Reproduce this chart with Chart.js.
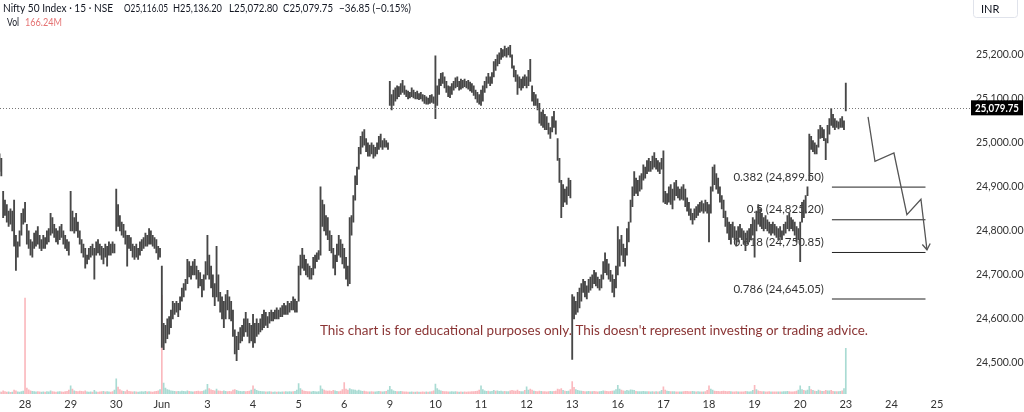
<!DOCTYPE html>
<html>
<head>
<meta charset="utf-8">
<script src="https://cdn.jsdelivr.net/npm/chart.js@4/dist/chart.umd.min.js"></script>
<style>
  html, body { margin: 0; padding: 0; background: #fff; }
  #wrap { width: 1024px; height: 412px; position: relative; }
</style>
</head>
<body>
<div id="wrap"><canvas id="chart" width="1024" height="412"></canvas></div>
<script>
// Nifty 50 Index, 15 min bars, 27 May (from 13:45) to 23 Jun (first bar)
const dayLabels = ["28", "29", "30", "Jun", "3", "4", "5", "6", "9", "10", "11", "12", "13", "16", "17", "18", "19", "20", "23", "24", "25"];
const barsPerDay = 25;
const firstDayBar = 14; // bars of 27 May shown before the 28 May open
const priceTicks = [24500, 24600, 24700, 24800, 24900, 25000, 25100, 25200];

const highs = [
  24975,24965,24890,24870,24860,24845,24850,24845,24870,24790,24775,24800,24840,24850,
  // 28 May
  24865,24815,24800,24780,24775,24795,24800,24810,24790,24780,24790,24785,24800,24805,24840,24830,24815,24805,24800,24810,24815,24800,24790,24780,24775,
  // 29 May
  24890,24845,24830,24840,24820,24800,24780,24770,24760,24745,24760,24765,24770,24760,24775,24780,24770,24765,24760,24770,24765,24775,24770,24775,24770,
  // 30 May
  24895,24860,24835,24820,24815,24800,24790,24790,24785,24770,24765,24770,24760,24775,24780,24785,24795,24790,24805,24800,24790,24785,24780,24765,24760,
  // 2 Jun
  24720,24590,24585,24600,24605,24620,24640,24635,24640,24635,24650,24670,24680,24690,24735,24730,24720,24730,24735,24720,24710,24705,24690,24700,24730,
  // 3 Jun
  24790,24745,24720,24700,24680,24765,24700,24660,24650,24640,24655,24665,24650,24640,24620,24575,24560,24570,24580,24585,24600,24615,24600,24590,24585,
  // 4 Jun
  24610,24590,24600,24590,24600,24610,24620,24615,24605,24615,24620,24615,24620,24625,24620,24625,24630,24635,24630,24640,24635,24640,24650,24645,24640,
  // 5 Jun
  24720,24745,24760,24745,24735,24725,24720,24715,24740,24745,24750,24755,24900,24870,24860,24835,24830,24800,24790,24760,24745,24770,24790,24780,24770,
  // 6 Jun
  24760,24740,24720,24830,24835,24880,24925,24945,24990,25015,25025,25030,25010,25000,24995,25000,24995,24990,25000,25015,25020,25005,25010,25005,25000,
  // 9 Jun
  25140,25110,25120,25125,25130,25128,25135,25142,25130,25120,25118,25115,25125,25120,25115,25118,25112,25115,25110,25108,25105,25102,25108,25110,25105,
  // 10 Jun
  25198,25130,25145,25158,25160,25150,25140,25130,25128,25135,25140,25148,25150,25140,25145,25142,25145,25140,25142,25138,25135,25130,25120,25115,25110,
  // 11 Jun
  25120,25130,25140,25150,25158,25150,25160,25185,25190,25200,25205,25215,25212,25220,25215,25218,25222,25200,25175,25165,25155,25150,25145,25150,25155,
  // 12 Jun
  25150,25165,25190,25130,25115,25110,25100,25090,25070,25075,25065,25060,25045,25035,25060,25072,25050,25010,24965,24915,24905,24895,24900,24920,24915,
  // 13 Jun
  24655,24650,24640,24660,24670,24680,24690,24685,24675,24690,24695,24700,24710,24705,24695,24690,24700,24730,24750,24735,24725,24710,24700,24690,24720,
  // 16 Jun
  24810,24780,24790,24770,24760,24805,24820,24870,24900,24935,24920,24915,24925,24930,24950,24945,24960,24965,24958,24970,24978,24965,24960,24955,24965,
  // 17 Jun
  24982,24890,24885,24900,24905,24895,24910,24915,24900,24895,24900,24905,24895,24875,24865,24850,24840,24850,24855,24860,24865,24868,24862,24870,24865,
  // 18 Jun
  24860,24900,24945,24950,24930,24920,24900,24880,24870,24845,24830,24820,24815,24820,24810,24800,24810,24815,24805,24800,24795,24800,24805,24815,24830,
  // 19 Jun
  24825,24845,24860,24850,24840,24830,24835,24825,24820,24815,24820,24815,24810,24805,24810,24800,24815,24820,24835,24840,24830,24825,24820,24810,24805,
  // 20 Jun
  24820,24865,24870,24880,24900,25020,25015,25005,25000,24995,25030,25040,25035,25030,25010,25040,25055,25078,25065,25055,25050,25048,25055,25060,25050,
  // 23 Jun
  25136.20
];

const lows = [
  24935,24925,24830,24835,24820,24810,24815,24800,24765,24710,24740,24765,24790,24815,
  24820,24770,24760,24745,24740,24760,24765,24770,24760,24755,24760,24760,24770,24775,24790,24795,24785,24775,24770,24780,24785,24770,24760,24755,24745,
  24800,24800,24795,24800,24785,24770,24750,24740,24715,24725,24735,24740,24745,24690,24745,24750,24745,24735,24725,24740,24720,24745,24745,24750,24750,
  24800,24810,24800,24790,24785,24770,24720,24760,24755,24740,24735,24740,24735,24745,24755,24760,24765,24765,24770,24770,24765,24760,24750,24735,24740,
  24535,24530,24545,24555,24565,24580,24600,24610,24615,24605,24620,24640,24650,24665,24680,24695,24690,24700,24700,24690,24670,24675,24650,24665,24690,
  24700,24690,24670,24650,24630,24650,24640,24615,24600,24580,24600,24620,24600,24595,24560,24520,24505,24530,24545,24550,24560,24570,24560,24545,24550,
  24535,24545,24560,24565,24570,24575,24580,24585,24580,24590,24595,24595,24600,24600,24600,24605,24605,24610,24610,24610,24615,24620,24620,24615,24615,
  24640,24700,24715,24710,24700,24695,24690,24690,24700,24715,24730,24735,24745,24810,24800,24790,24780,24755,24750,24715,24700,24730,24745,24740,24725,
  24715,24690,24675,24680,24790,24820,24870,24905,24940,24975,24990,24995,24980,24970,24970,24975,24965,24970,24975,24985,24990,24985,24990,24990,24985,
  25085,25075,25085,25095,25100,25105,25110,25115,25110,25105,25100,25102,25105,25102,25100,25100,25098,25100,25095,25090,25088,25088,25090,25092,25090,
  25055,25085,25110,25130,25135,25125,25115,25105,25103,25110,25120,25125,25128,25120,25122,25125,25128,25125,25122,25118,25115,25108,25100,25092,25088,
  25085,25095,25115,25125,25135,25130,25135,25150,25165,25175,25180,25190,25195,25198,25195,25200,25195,25170,25150,25140,25110,25125,25120,25125,25130,
  25125,25130,25140,25095,25085,25085,25075,25045,25040,25035,25030,25030,25020,25010,25025,25035,25020,24960,24910,24830,24855,24865,24860,24880,24875,
  24508,24600,24610,24615,24625,24640,24660,24650,24645,24660,24665,24670,24680,24675,24670,24665,24670,24690,24705,24700,24690,24685,24660,24650,24670,
  24700,24720,24745,24730,24720,24745,24775,24820,24855,24880,24885,24880,24890,24895,24915,24920,24930,24935,24935,24940,24945,24940,24935,24930,24940,
  24865,24862,24860,24865,24860,24850,24870,24880,24875,24870,24872,24870,24855,24845,24835,24825,24815,24825,24830,24835,24842,24845,24840,24845,24840,
  24775,24840,24890,24905,24895,24885,24865,24850,24830,24810,24795,24780,24770,24785,24780,24765,24775,24785,24780,24770,24755,24770,24775,24780,24790,
  24740,24800,24815,24810,24805,24800,24805,24800,24795,24790,24795,24790,24785,24780,24785,24780,24790,24795,24805,24800,24805,24800,24790,24775,24780,
  24730,24820,24830,24840,24880,24915,24985,24980,24975,24975,24990,25010,25012,25005,24962,25000,25020,25040,25035,25030,25035,25032,25035,25035,25030,
  25072.80
];

const closes = [
  24945,24930,24855,24845,24830,24835,24825,24840,24775,24750,24765,24790,24830,24845,
  24825,24785,24765,24755,24765,24785,24790,24775,24765,24770,24775,24770,24790,24800,24825,24805,24790,24780,24795,24805,24790,24775,24770,24760,24755,
  24835,24815,24825,24810,24790,24775,24755,24745,24730,24740,24750,24755,24750,24760,24770,24760,24750,24740,24755,24745,24760,24765,24760,24755,24760,
  24850,24820,24810,24795,24800,24780,24775,24770,24760,24750,24760,24745,24755,24770,24775,24780,24785,24775,24795,24785,24770,24765,24760,24745,24750,
  24560,24570,24580,24590,24600,24615,24625,24630,24620,24625,24645,24665,24670,24685,24720,24700,24710,24725,24705,24695,24685,24680,24665,24695,24720,
  24730,24705,24680,24660,24655,24690,24650,24630,24615,24620,24640,24630,24610,24605,24570,24530,24540,24560,24565,24575,24595,24580,24570,24560,24575,
  24560,24575,24580,24585,24595,24600,24605,24590,24600,24610,24605,24610,24615,24605,24615,24620,24625,24615,24625,24630,24630,24640,24625,24630,24635,
  24710,24735,24720,24715,24705,24700,24695,24710,24735,24740,24745,24750,24820,24830,24810,24800,24790,24760,24755,24720,24740,24765,24760,24745,24740,
  24725,24700,24690,24820,24825,24875,24915,24940,24985,25005,25015,25000,24985,24980,24990,24980,24975,24985,24995,25010,24995,25000,25005,24995,24995,
  25095,25105,25115,25120,25110,25120,25130,25120,25115,25110,25108,25112,25115,25105,25110,25105,25108,25102,25098,25095,25098,25095,25105,25100,25098,
  25100,25125,25140,25150,25140,25130,25120,25110,25125,25130,25140,25145,25135,25138,25130,25140,25135,25130,25128,25122,25118,25110,25105,25098,25095,
  25110,25125,25135,25145,25140,25145,25155,25180,25175,25195,25200,25205,25210,25205,25210,25215,25198,25175,25160,25150,25140,25130,25140,25145,25135,
  25140,25160,25145,25100,25105,25090,25080,25050,25060,25045,25040,25035,25025,25030,25055,25045,25025,24965,24915,24870,24880,24870,24890,24900,24885,
  24620,24615,24635,24650,24665,24675,24670,24660,24670,24685,24680,24695,24690,24685,24675,24690,24695,24720,24715,24710,24700,24690,24665,24680,24710,
  24750,24770,24755,24740,24755,24795,24815,24860,24890,24900,24895,24910,24920,24925,24935,24940,24955,24945,24950,24965,24950,24950,24940,24950,24955,
  24880,24870,24880,24895,24870,24885,24905,24890,24885,24890,24895,24880,24860,24850,24840,24830,24835,24845,24840,24855,24860,24850,24860,24855,24850,
  24845,24895,24935,24915,24905,24890,24870,24860,24840,24815,24805,24790,24800,24790,24785,24780,24800,24790,24785,24780,24775,24790,24800,24810,24815,
  24810,24835,24825,24815,24810,24820,24810,24805,24800,24810,24800,24795,24790,24800,24795,24800,24810,24815,24830,24820,24815,24810,24795,24790,24800,
  24810,24855,24840,24875,24895,25005,24990,24995,24985,24990,25025,25020,25025,25010,24995,25030,25050,25045,25040,25045,25038,25045,25050,25040,25045,
  25079.75
];

// volume, millions
const volumes = [
  8,7,12,9,7,8,6,7,14,12,8,7,9,11,
  350,22,15,12,10,9,8,9,8,7,8,7,9,8,12,9,8,7,8,9,8,7,9,10,14,
  30,18,12,10,9,11,10,9,12,8,7,8,7,13,8,7,8,9,10,8,9,8,7,9,14,
  55,25,16,12,10,9,14,10,9,8,9,8,7,8,9,8,10,8,9,8,7,9,10,12,16,
  360,40,22,16,14,12,11,10,9,10,9,11,10,9,12,10,9,8,9,10,11,9,10,12,15,
  35,20,15,13,12,18,12,11,10,12,10,9,10,9,14,16,13,11,10,9,10,9,10,11,14,
  30,18,13,11,10,9,9,8,8,9,8,7,8,7,8,7,8,8,9,8,9,8,9,10,14,
  38,20,14,11,10,9,9,8,10,9,8,9,30,18,14,12,11,12,10,13,12,10,9,11,16,
  42,18,14,20,16,15,14,12,14,12,10,11,9,8,8,9,8,8,9,10,9,8,9,10,14,
  28,16,12,10,9,9,10,9,8,8,7,7,8,7,7,8,7,7,8,7,8,7,8,9,12,
  36,20,14,12,10,9,9,8,8,9,8,9,8,7,8,7,8,7,8,8,9,9,10,11,14,
  30,16,12,10,11,9,10,13,11,12,10,11,9,10,9,9,12,13,12,11,14,10,9,9,13,
  26,14,18,14,11,10,9,11,10,9,9,8,9,10,9,10,11,18,16,20,13,11,10,11,16,
  45,24,16,13,12,11,10,9,9,10,9,9,10,9,8,9,10,12,11,10,9,10,11,12,16,
  32,18,14,12,11,13,12,15,14,13,10,9,9,9,10,9,9,9,8,9,8,9,8,9,13,
  26,14,11,10,9,9,9,8,8,8,8,9,10,10,9,9,10,9,8,9,8,8,8,9,13,
  30,18,14,11,10,10,9,10,11,10,9,10,9,8,8,9,8,8,8,8,10,9,8,9,13,
  32,16,12,10,9,9,8,8,9,8,8,8,8,8,8,8,9,9,10,9,8,8,9,11,14,
  30,16,13,12,14,28,16,13,11,10,14,12,10,10,13,12,12,13,10,9,9,9,10,12,20,
  166.24
];

// fibonacci retracement drawn on the chart
const fibRatios = ["0.382", "0.5", "0.618", "0.786"];
const fibPrices = [24899.50, 24825.20, 24750.85, 24645.05];
const fibFromBar = 456.4;
const fibToBar = 507.7;

// projected zigzag path (bar index, price)
const zigzagBars = [476.2, 480.0, 490.4, 497.5, 505.2, 508.5];
const zigzagPrices = [25059, 24958, 24977, 24837, 24872, 24757];

// header text pieces: [text, left x, width]
const headerParts = [
  ["Nifty 50 Index \u00b7 15 \u00b7 NSE", 3, 110],
  ["O25,116.05", 124, 44],
  ["H25,136.20", 173, 49],
  ["L25,072.80", 229, 49],
  ["C25,079.75", 283, 50],
  ["\u221236.85 (\u22120.15%)", 339, 72]
];
const volumeText = "166.24M";
const disclaimer = "This chart is for educational purposes only. This doesn't represent investing or trading advice.";

const FONT = "Lato, 'Open Sans', sans-serif";
const fmt = (v) => v.toLocaleString("en-US", { minimumFractionDigits: 2, maximumFractionDigits: 2 });

const dayStarts = dayLabels.map((_, k) => firstDayBar + k * barsPerDay);
const lastClose = closes[closes.length - 1];

const volColors = volumes.map((v, i) => {
  const prev = i > 0 ? closes[i - 1] : closes[0];
  return closes[i] >= prev ? "rgba(8,153,129,0.35)" : "rgba(242,54,69,0.35)";
});

const fibDatasets = fibPrices.map((p) => ({
  type: "line",
  yAxisID: "y",
  data: [{ x: fibFromBar, y: p }, { x: fibToBar, y: p }],
  borderColor: "#222",
  borderWidth: 1,
  pointRadius: 0,
  order: 1
}));

// draw text squeezed horizontally so it spans the given width
const drawFitted = (ctx, text, x, y, width) => {
  const w = ctx.measureText(text).width;
  const s = Math.min(1, width / w);
  ctx.save();
  ctx.translate(x, y);
  ctx.scale(s, 1);
  ctx.fillText(text, 0, 0);
  ctx.restore();
};

const overlay = {
  id: "overlay",
  beforeDatasetsDraw(chart) {
    const { ctx, scales } = chart;
    ctx.save();
    // fib labels sit under the bars
    ctx.font = "11.5px " + FONT;
    ctx.fillStyle = "#333";
    ctx.textAlign = "right";
    ctx.textBaseline = "middle";
    fibPrices.forEach((p, i) => {
      const ly = scales.y.getPixelForValue(p);
      ctx.fillText(fibRatios[i] + " (" + fmt(p) + ")", scales.x.getPixelForValue(fibFromBar) - 8, ly - 10);
    });
    ctx.restore();
  },
  afterDatasetsDraw(chart) {
    const { ctx, chartArea, scales } = chart;
    const y = scales.y, x = scales.x;
    ctx.save();
    // last price dotted line
    const py = Math.round(y.getPixelForValue(lastClose)) + 0.5;
    ctx.strokeStyle = "#777";
    ctx.lineWidth = 1;
    ctx.setLineDash([1, 2]);
    ctx.beginPath();
    ctx.moveTo(chartArea.left, py);
    ctx.lineTo(chartArea.right, py);
    ctx.stroke();
    ctx.setLineDash([]);

    // arrow head at the end of the zigzag
    const n = zigzagBars.length;
    const tx = x.getPixelForValue(zigzagBars[n - 1]), ty = y.getPixelForValue(zigzagPrices[n - 1]);
    const sx = x.getPixelForValue(zigzagBars[n - 2]), sy = y.getPixelForValue(zigzagPrices[n - 2]);
    const ang = Math.atan2(ty - sy, tx - sx);
    ctx.strokeStyle = "#555";
    ctx.lineWidth = 1.3;
    ctx.beginPath();
    ctx.moveTo(tx - 7 * Math.cos(ang - 0.6), ty - 7 * Math.sin(ang - 0.6));
    ctx.lineTo(tx, ty);
    ctx.lineTo(tx - 7 * Math.cos(ang + 0.6), ty - 7 * Math.sin(ang + 0.6));
    ctx.stroke();

    // disclaimer
    ctx.font = "14px " + FONT;
    ctx.fillStyle = "#8a3434";
    ctx.textAlign = "left";
    ctx.textBaseline = "middle";
    drawFitted(ctx, disclaimer, 320, 330, 548);
    ctx.restore();
  },
  afterDraw(chart) {
    const { ctx, chartArea, scales } = chart;
    ctx.save();
    // header
    ctx.font = "12px " + FONT;
    ctx.textBaseline = "middle";
    ctx.textAlign = "left";
    ctx.fillStyle = "#131722";
    headerParts.forEach(([t, px, w]) => drawFitted(ctx, t, px, 8, w));
    drawFitted(ctx, "Vol", 7, 22, 12);
    ctx.fillStyle = "#e57373";
    drawFitted(ctx, volumeText, 25, 22, 37);

    // currency box
    ctx.strokeStyle = "#e0e3eb";
    ctx.lineWidth = 1;
    ctx.beginPath();
    ctx.roundRect(973.5, -3.5, 44, 21, 3);
    ctx.stroke();
    ctx.fillStyle = "#131722";
    ctx.font = "11px " + FONT;
    ctx.fillText("INR", 981, 9);

    // last price label
    const py = scales.y.getPixelForValue(lastClose);
    ctx.fillStyle = "#000";
    ctx.fillRect(chartArea.right + 1, py - 7.5, 52, 15);
    ctx.fillStyle = "#fff";
    ctx.font = "bold 11px " + FONT;
    drawFitted(ctx, fmt(lastClose), chartArea.right + 5, py + 0.5, 44);
    ctx.restore();
  }
};

new Chart(document.getElementById("chart"), {
  type: "bar",
  data: {
    datasets: [
      {
        label: "Volume",
        yAxisID: "yv",
        data: volumes.map((v, i) => ({ x: i, y: v })),
        backgroundColor: volColors,
        barThickness: 1,
        grouped: false,
        order: 3
      },
      {
        label: "Nifty 50",
        yAxisID: "y",
        data: highs.map((h, i) => ({ x: i, y: [lows[i], h] })),
        backgroundColor: "#474747",
        barThickness: 1.2,
        grouped: false,
        order: 2
      },
      ...fibDatasets,
      {
        type: "line",
        yAxisID: "y",
        data: zigzagBars.map((b, i) => ({ x: b, y: zigzagPrices[i] })),
        borderColor: "#555",
        borderWidth: 1.3,
        pointRadius: 0,
        tension: 0,
        order: 0
      }
    ]
  },
  options: {
    responsive: false,
    animation: false,
    events: [],
    layout: { padding: 0 },
    plugins: { legend: { display: false }, tooltip: { enabled: false } },
    scales: {
      x: {
        type: "linear",
        min: 0.27,
        max: 532.1,
        offset: false,
        grid: { display: false, drawTicks: false },
        border: { display: false },
        afterBuildTicks: (axis) => { axis.ticks = dayStarts.map((v) => ({ value: v })); },
        afterFit: (axis) => { axis.height = 18; },
        ticks: {
          autoSkip: false,
          maxRotation: 0,
          padding: 4,
          color: "#333",
          font: { family: FONT, size: 11 },
          callback: (v, i) => dayLabels[i]
        }
      },
      y: {
        position: "right",
        min: 24429.1,
        max: 25296.9,
        grid: { display: false, drawTicks: false },
        border: { display: false },
        afterBuildTicks: (axis) => { axis.ticks = priceTicks.map((v) => ({ value: v })); },
        afterFit: (axis) => { axis.width = 54; },
        ticks: {
          padding: 6,
          color: "#333",
          font: { family: FONT, size: 10.5 },
          callback: (v) => fmt(v)
        }
      },
      yv: {
        display: false,
        min: 0,
        max: 1393
      }
    }
  },
  plugins: [overlay]
});
</script>
</body>
</html>
